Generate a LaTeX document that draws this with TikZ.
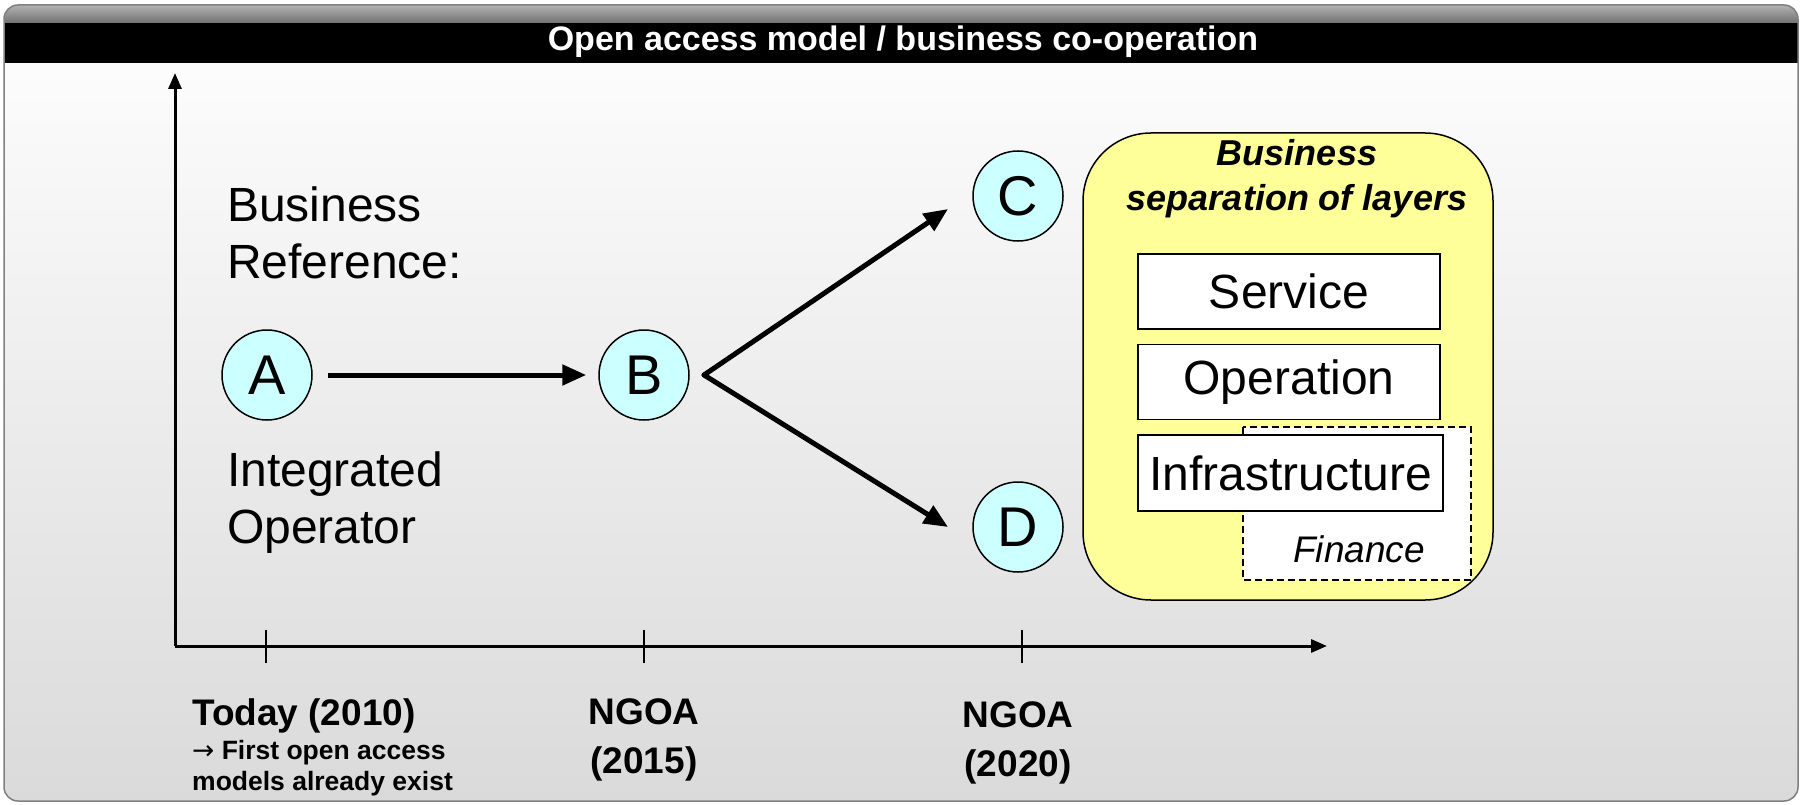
\documentclass[tikz,border=0pt]{standalone}
\usepackage{fontspec}
\setmainfont{Liberation Sans}
\newfontfamily\arrowfont{DejaVu Sans}
\usetikzlibrary{arrows.meta}
\definecolor{cyanfill}{HTML}{CCFFFF}
\definecolor{yellowfill}{HTML}{FFFF99}
\definecolor{bodybottom}{HTML}{DADADA}
\begin{document}
\begin{tikzpicture}[x=1pt,y=-1pt,
  letter/.style={circle,draw=black,line width=1.5pt,fill=cyanfill,minimum size=90pt,inner sep=0pt,font=\fontsize{56}{60}\selectfont},
  layer/.style={draw=black,line width=1.5pt,fill=white,minimum width=302pt,minimum height=75pt,inner sep=0pt,font=\fontsize{48}{52}\selectfont},
  bigarrow/.style={line width=5pt,-{Triangle[length=24pt,width=20pt]}},
  axisline/.style={line width=3pt,-{Triangle[length=16pt,width=13pt]}},
  tickline/.style={line width=1.5pt},
  plaintext/.style={inner sep=0pt,font=\fontsize{48}{57}\selectfont,align=left},
  timelabel/.style={inner sep=0pt,font=\bfseries\fontsize{37}{49}\selectfont,align=center},
  smalllabel/.style={inner sep=0pt,font=\bfseries\fontsize{26.5}{31}\selectfont,anchor=west},
]
\useasboundingbox (0,0) rectangle (1803,805);
% frame and body
\shade[top color=white,bottom color=bodybottom,rounded corners=14] (4,5) rectangle (1798,801);
\shade[top color=black!30,bottom color=black!80,rounded corners=14] (4,5) rectangle (1798,40);
\fill[black] (4,23) rectangle (1798,63);
\draw[gray,line width=1.5pt,rounded corners=14] (4,5) rectangle (1798,801);
\node[inner sep=0pt,text=white,font=\bfseries\fontsize{34}{38}\selectfont] (title) at (903,42) {Open access model / business co-operation};

% axes
\coordinate (origin) at (175,646);
\coordinate (ytop) at (175,73);
\coordinate (xend) at (1327,646);
\draw[axisline] (origin) -- (ytop);
\draw[axisline] (origin) -- (xend);
\coordinate (t1a) at (266,630); \coordinate (t1b) at (266,663);
\coordinate (t2a) at (644,630); \coordinate (t2b) at (644,663);
\coordinate (t3a) at (1022,630); \coordinate (t3b) at (1022,663);
\draw[tickline] (t1a) -- (t1b);
\draw[tickline] (t2a) -- (t2b);
\draw[tickline] (t3a) -- (t3b);

% left texts
\node[plaintext,anchor=west] (busref) at (227,233) {Business\\Reference:};
\node[plaintext,anchor=west] (integ) at (227,503) {Integrated\\Operator};

% circles
\node[letter] (A) at (267,375) {A};
\node[letter] (B) at (644,375) {B};
\node[letter] (C) at (1018,196) {C};
\node[letter] (D) at (1018,527) {D};

\draw[bigarrow,shorten <=15pt,shorten >=12pt] (A) -- (B);
\coordinate (Bout) at (704,375);
\coordinate (Cin) at (948,209);
\coordinate (Din) at (948,527);
\draw[bigarrow,line cap=round] (Bout) -- (Cin);
\draw[bigarrow,line cap=round] (Bout) -- (Din);

% layers box
\draw[fill=yellowfill,line width=1.5pt,rounded corners=68] (1083,133) rectangle (1493,600);
\node[inner sep=0pt,align=center,font=\bfseries\itshape\fontsize{36}{45}\selectfont] (sephead) at (1297,179) {Business\\separation of layers};
\node[layer] (service) at (1289,291.5) {Service};
\node[layer] (operation) at (1289,382) {Operation};
\draw[fill=white,line width=1.5pt,dash pattern=on 7pt off 4pt] (1243,427) rectangle (1471,580);
\node[inner sep=0pt,font=\itshape\fontsize{37}{40}\selectfont] (finance) at (1359,549) {Finance};
\node[layer,minimum width=305pt,minimum height=76pt] (infra) at (1290.5,473) {Infrastructure};

% time labels
\node[inner sep=0pt,anchor=west,font=\bfseries\fontsize{37}{40}\selectfont] (today) at (192,716) {Today (2010)};
\node[smalllabel] (first) at (192,753) {{\arrowfont\mdseries →} First open access};
\node[smalllabel] (models) at (192,784) {models already exist};
\node[timelabel] (ngoa15) at (644,740) {NGOA\\(2015)};
\node[timelabel] (ngoa20) at (1018,743) {NGOA\\(2020)};
\end{tikzpicture}
\end{document}
